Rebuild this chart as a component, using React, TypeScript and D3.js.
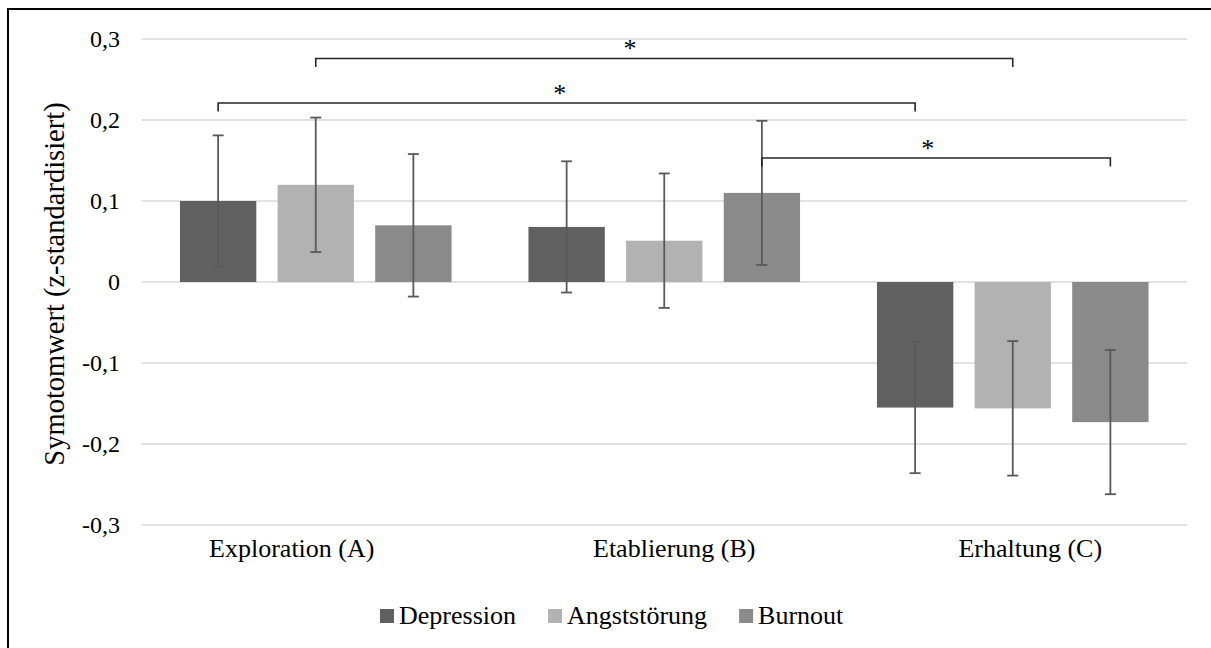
import React, { useEffect, useRef } from "react";
import * as d3 from "d3";

// phases + symptom groups
const phases = ["Exploration (A)", "Etablierung (B)", "Erhaltung (C)"];
const groups = ["Depression", "Angststörung", "Burnout"];
const groupColors = ["#606060", "#b2b2b2", "#8a8a8a"];

// mean values per phase (rows) and group (cols)
const depression = [0.1, 0.068, -0.155];
const angst = [0.12, 0.051, -0.156];
const burnout = [0.07, 0.11, -0.173];

// error bar half widths
const depressionErr = [0.081, 0.081, 0.081];
const angstErr = [0.083, 0.083, 0.083];
const burnoutErr = [0.088, 0.089, 0.089];

const yTicks = [-0.3, -0.2, -0.1, 0, 0.1, 0.2, 0.3];

// significance brackets: [phase, group] -> [phase, group], bracket height, star position along it
const brackets = [
  { from: [0, 1], to: [2, 1], level: 0.276, star: 0.451 },
  { from: [0, 0], to: [2, 0], level: 0.221, star: 0.49 },
  { from: [1, 2], to: [2, 2], level: 0.153, star: 0.476 },
];

const FONT = "'Liberation Serif', 'Times New Roman', 'DejaVu Serif', serif";

export default function App() {
  const ref = useRef<SVGSVGElement>(null);

  useEffect(() => {
    const svg = d3.select(ref.current);
    svg.selectAll("*").remove();

    const width = 1211, height = 648;
    const left = 141.5, right = 1187, top = 39, bottom = 525;

    const x = d3.scaleBand().domain(phases).range([left, right]);
    const xInner = d3.scaleBand().domain(groups).range([0, x.bandwidth()]).paddingInner(0.218).paddingOuter(0.394);
    const y = d3.scaleLinear().domain([-0.3, 0.3]).range([bottom, top]);
    const color = d3.scaleOrdinal<string>().domain(groups).range(groupColors);

    const vals = [depression, angst, burnout];
    const errs = [depressionErr, angstErr, burnoutErr];
    const rows = phases.flatMap((p, i) =>
      groups.map((g, j) => ({ phase: p, group: g, value: vals[j][i], err: errs[j][i] }))
    );
    const cx = (p: string, g: string) => (x(p) as number) + (xInner(g) as number) + xInner.bandwidth() / 2;

    // frame
    svg.append("rect").attr("x", 8).attr("y", 9).attr("width", width).attr("height", height)
      .attr("fill", "none").attr("stroke", "#000").attr("stroke-width", 2);

    // gridlines
    svg.append("g").selectAll("line").data(yTicks).join("line")
      .attr("x1", left).attr("x2", right)
      .attr("y1", d => y(d)).attr("y2", d => y(d))
      .attr("stroke", "#d9d9d9").attr("stroke-width", 1.5);

    // tick labels
    svg.append("g").selectAll("text").data(yTicks).join("text")
      .attr("x", 120).attr("y", d => y(d)).attr("dy", "0.35em")
      .attr("text-anchor", "end").style("font-family", FONT).attr("font-size", 24).attr("fill", "#000")
      .text(d => (d === 0 ? "0" : d3.format(".1f")(d).replace(".", ",").replace("−", "-")));

    // y title
    svg.append("text")
      .attr("transform", `translate(64, ${(top + bottom) / 2 + 2}) rotate(-90)`)
      .attr("text-anchor", "middle").style("font-family", FONT).attr("font-size", 28.5)
      .text("Symotomwert (z-standardisiert)");

    // bars
    svg.append("g").selectAll("rect").data(rows).join("rect")
      .attr("x", d => (x(d.phase) as number) + (xInner(d.group) as number))
      .attr("width", xInner.bandwidth())
      .attr("y", d => y(Math.max(0, d.value)))
      .attr("height", d => Math.abs(y(d.value) - y(0)))
      .attr("fill", d => color(d.group));

    // error bars
    const eb = svg.append("g").attr("stroke", "#595959").attr("stroke-width", 1.8);
    eb.selectAll(".stem").data(rows).join("line").attr("class", "stem")
      .attr("x1", d => cx(d.phase, d.group)).attr("x2", d => cx(d.phase, d.group))
      .attr("y1", d => y(d.value + d.err)).attr("y2", d => y(d.value - d.err));
    eb.selectAll(".capT").data(rows).join("line").attr("class", "capT")
      .attr("x1", d => cx(d.phase, d.group) - 5.5).attr("x2", d => cx(d.phase, d.group) + 5.5)
      .attr("y1", d => y(d.value + d.err)).attr("y2", d => y(d.value + d.err));
    eb.selectAll(".capB").data(rows).join("line").attr("class", "capB")
      .attr("x1", d => cx(d.phase, d.group) - 5.5).attr("x2", d => cx(d.phase, d.group) + 5.5)
      .attr("y1", d => y(d.value - d.err)).attr("y2", d => y(d.value - d.err));

    // significance brackets
    const bg = svg.append("g");
    brackets.forEach(b => {
      const x1 = cx(phases[b.from[0]], groups[b.from[1]]);
      const x2 = cx(phases[b.to[0]], groups[b.to[1]]);
      const yy = y(b.level);
      bg.append("path")
        .attr("d", `M${x1},${yy + 8.5}V${yy}H${x2}V${yy + 8.5}`)
        .attr("fill", "none").attr("stroke", "#262626").attr("stroke-width", 1.6);
      bg.append("text")
        .attr("x", x1 + (x2 - x1) * b.star).attr("y", yy - 1)
        .attr("text-anchor", "middle").style("font-family", FONT).attr("font-size", 26)
        .text("*");
    });

    // category labels (placed slightly off the group centres, like the original)
    const labelShift = [-24, 10, 17.5];
    svg.append("g").selectAll("text").data(phases).join("text")
      .attr("x", (d, i) => (x(d) as number) + x.bandwidth() / 2 + labelShift[i])
      .attr("y", 557).attr("text-anchor", "middle")
      .style("font-family", FONT).attr("font-size", 26)
      .text(d => d);

    // legend
    const leg = svg.append("g").attr("transform", "translate(380, 609)");
    let lx = 0;
    groups.forEach(g => {
      const item = leg.append("g").attr("transform", `translate(${lx}, 0)`);
      item.append("rect").attr("width", 14).attr("height", 14).attr("fill", color(g));
      const t = item.append("text").attr("x", 19).attr("y", 15)
        .style("font-family", FONT).attr("font-size", 26).text(g);
      const w = (t.node() as SVGTextElement).getComputedTextLength();
      lx += 19 + w + 32;
    });
  }, []);

  return (
    <svg ref={ref} width={1211} height={648}
      style={{ position: "absolute", left: 0, top: 0, background: "#fff" }} />
  );
}
